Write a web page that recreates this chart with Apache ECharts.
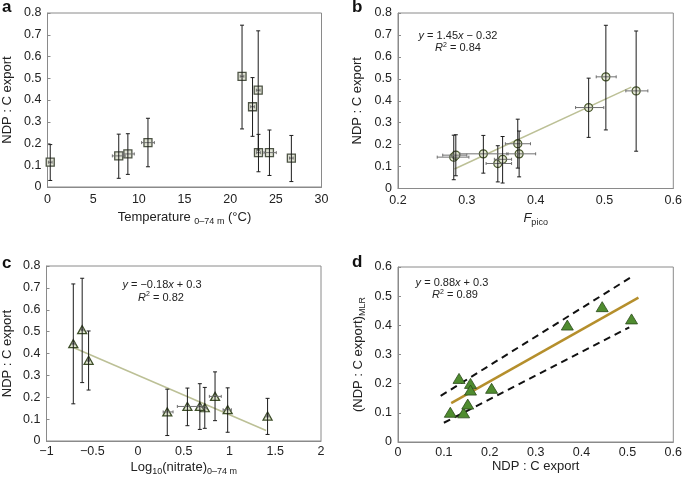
<!DOCTYPE html>
<html>
<head>
<meta charset="utf-8">
<script src="https://cdn.jsdelivr.net/npm/echarts@6/dist/echarts.min.js"></script>
<style>
html,body{margin:0;padding:0;background:#fff;}
#chart{width:685px;height:480px;}
</style>
</head>
<body>
<div id="chart"></div>
<script>
// ---- data (index = sampling station, shared by panels) ----
const ndp      = [0.114, 0.143, 0.152, 0.204, 0.509, 0.369, 0.445, 0.158, 0.158, 0.133];
const ndpLo    = [0.030, 0.040, 0.058, 0.093, 0.267, 0.233, 0.170, 0.070, 0.053, 0.025];
const ndpHi    = [0.195, 0.243, 0.245, 0.316, 0.744, 0.503, 0.718, 0.242, 0.262, 0.237];

const tempX    = [0.3, 7.8, 8.8, 11.0, 21.3, 22.45, 23.07, 23.1, 24.3, 26.7];
const tempLo   = [0.1, 7.1, 8.2, 10.3, 21.1, 22.25, 22.87, 22.9, 23.7, 26.5];
const tempHi   = [0.5, 8.5, 9.5, 11.7, 21.5, 22.65, 23.27, 23.3, 25.05, 26.9];

const fpico    = [0.345, 0.281, 0.284, 0.374, 0.502, 0.477, 0.546, 0.324, 0.376, 0.352];
const fpicoLo  = [0.328, 0.257, 0.265, 0.356, 0.488, 0.458, 0.531, 0.290, 0.358, 0.340];
const fpicoHi  = [0.365, 0.303, 0.300, 0.3925, 0.517, 0.499, 0.563, 0.360, 0.400, 0.365];

const logNitrate   = [1.416, 0.98, 0.73, 0.842, -0.61, -0.54, -0.707, 0.54, 0.676, 0.32];
const logNitrateLo = [1.400, 0.93, 0.71, 0.780, -0.62, -0.55, -0.720, 0.43, 0.655, 0.275];
const logNitrateHi = [1.430, 1.02, 0.75, 0.910, -0.60, -0.53, -0.690, 0.65, 0.695, 0.383];

const ndpMlr   = [0.102, 0.100, 0.130, 0.184, 0.422, 0.401, 0.464, 0.201, 0.178, 0.218];

// fitted / band lines (end points)
const fitB       = [[0.282, 0.089], [0.539, 0.462]];
const fitC       = [[-0.72, 0.430], [1.40, 0.048]];
const fitD       = [[0.116, 0.133], [0.524, 0.495]];
const bandDUpper = [[0.093, 0.158], [0.513, 0.570]];
const bandDLower = [[0.100, 0.066], [0.504, 0.393]];

// tick labels
const yTicksAB = ['0','0.1','0.2','0.3','0.4','0.5','0.6','0.7','0.8'];
const xTicksA  = ['0','5','10','15','20','25','30'];
const xTicksB  = ['0.2','0.3','0.4','0.5','0.6'];
const xTicksC  = ['−1','−0.5','0','0.5','1','1.5','2'];
const ticksD   = ['0','0.1','0.2','0.3','0.4','0.5','0.6'];

// ---- helpers ----
const FONT = 'Liberation Sans, Arial, sans-serif';
const zip = (xs, ys) => xs.map((x, i) => [x, ys[i]]);
function errData(xs, ys, ylo, yhi, xlo, xhi) {
  return xs.map((x, i) => [x, ys[i], ylo[i], yhi[i], xlo[i], xhi[i]]);
}
function renderErr(params, api) {
  const x = api.value(0), y = api.value(1);
  const yl = api.value(2), yh = api.value(3), xl = api.value(4), xh = api.value(5);
  const a1 = api.coord([x, yl]), a2 = api.coord([x, yh]);
  const b1 = api.coord([xl, y]), b2 = api.coord([xh, y]);
  const c = 2;
  const vs = {stroke: '#1c1c1c', lineWidth: 1};
  const hs = {stroke: '#707070', lineWidth: 1};
  return {
    type: 'group',
    children: [
      {type: 'line', shape: {x1: b1[0], y1: b1[1], x2: b2[0], y2: b2[1]}, style: hs},
      {type: 'line', shape: {x1: b1[0], y1: b1[1] - 1.5, x2: b1[0], y2: b1[1] + 1.5}, style: hs},
      {type: 'line', shape: {x1: b2[0], y1: b2[1] - 1.5, x2: b2[0], y2: b2[1] + 1.5}, style: hs},
      {type: 'line', shape: {x1: a1[0], y1: a1[1], x2: a2[0], y2: a2[1]}, style: vs},
      {type: 'line', shape: {x1: a1[0] - c, y1: a1[1], x2: a1[0] + c, y2: a1[1]}, style: vs},
      {type: 'line', shape: {x1: a2[0] - c, y1: a2[1], x2: a2[0] + c, y2: a2[1]}, style: vs}
    ]
  };
}
const nameRich = {
  n: {fontSize: 13, fontFamily: FONT, color: '#222', lineHeight: 18, verticalAlign: 'middle'},
  i: {fontSize: 13, fontFamily: FONT, color: '#222', fontStyle: 'italic', lineHeight: 18, verticalAlign: 'middle'},
  s: {fontSize: 9, fontFamily: FONT, color: '#222', lineHeight: 10, verticalAlign: 'bottom'}
};
function xAxisDef(grid, min, max, interval, labels, name, gap, margin) {
  return {
    type: 'value', gridIndex: grid, min: min, max: max, interval: interval,
    axisLine: {show: true, onZero: false, lineStyle: {color: '#8a8a8a', width: 1}},
    axisTick: {show: false},
    splitLine: {show: false},
    axisLabel: {
      fontSize: 12.5, fontFamily: FONT, color: '#222', margin: margin,
      formatter: (v) => labels[Math.round((v - min) / interval)]
    },
    name: name, nameLocation: 'middle', nameGap: gap,
    nameTextStyle: {fontSize: 13, fontFamily: FONT, color: '#222', rich: nameRich}
  };
}
function yAxisDef(grid, min, max, interval, labels, name, gap) {
  return {
    type: 'value', gridIndex: grid, min: min, max: max, interval: interval,
    axisLine: {show: true, onZero: false, lineStyle: {color: '#8a8a8a', width: 1}},
    axisTick: {show: true, inside: true, length: 3, lineStyle: {color: '#8a8a8a'}},
    splitLine: {show: false},
    axisLabel: {
      fontSize: 12.5, fontFamily: FONT, color: '#222', margin: 6,
      formatter: (v) => labels[Math.round((v - min) / interval)]
    },
    name: name, nameLocation: 'middle', nameGap: gap,
    nameTextStyle: {fontSize: 13, fontFamily: FONT, color: '#222', rich: nameRich}
  };
}
function eqText(x, y, parts) {
  return {
    type: 'text', x: x, y: y,
    style: {
      text: parts, x: 0, y: 0, align: 'center', verticalAlign: 'middle',
      fontSize: 11, fontFamily: FONT, fill: '#222',
      rich: {
        n: {fontSize: 11, fontFamily: FONT, color: '#222', lineHeight: 13},
        i: {fontSize: 11, fontFamily: FONT, color: '#222', fontStyle: 'italic', lineHeight: 13},
        p: {fontSize: 7, fontFamily: FONT, color: '#222', lineHeight: 13, verticalAlign: 'top', padding: [0, 0, 6, 0]}
      }
    }
  };
}
function letter(x, y, t) {
  return {type: 'text', x: x, y: y, style: {text: t, x: 0, y: 0, align: 'left', verticalAlign: 'middle',
    fontSize: 17, fontWeight: 'bold', fontFamily: FONT, fill: '#111'}};
}

const chart = echarts.init(document.getElementById('chart'), null, {renderer: 'canvas'});
const gridStyle = {show: true, borderColor: '#8a8a8a', borderWidth: 1, backgroundColor: 'transparent', containLabel: false};
chart.setOption({
  animation: false,
  grid: [
    Object.assign({left: 44.5, top: 13, width: 277, height: 174}, gridStyle),
    Object.assign({left: 398, top: 13, width: 277, height: 175.5}, gridStyle),
    Object.assign({left: 44, top: 266, width: 277, height: 175}, gridStyle),
    Object.assign({left: 398, top: 267, width: 278, height: 175}, gridStyle)
  ],
  xAxis: [
    xAxisDef(0, 0, 30, 5, xTicksA, '{n|Temperature }{s|0–74 m}{n| (°C)}', 21, 6),
    xAxisDef(1, 0.2, 0.6, 0.1, xTicksB, '{i|F}{s|pico}', 21, 6),
    xAxisDef(2, -1, 2, 0.5, xTicksC, '{n|Log}{s|10}{n|(nitrate)}{s|0–74 m}', 17, 4),
    xAxisDef(3, 0, 0.6, 0.1, ticksD, '{n|NDP : C export}', 13, 4)
  ],
  yAxis: [
    yAxisDef(0, 0, 0.8, 0.1, yTicksAB, '{n|NDP : C export}', 31),
    yAxisDef(1, 0, 0.8, 0.1, yTicksAB, '{n|NDP : C export}', 32),
    yAxisDef(2, 0, 0.8, 0.1, yTicksAB, '{n|NDP : C export}', 30),
    yAxisDef(3, 0, 0.6, 0.1, ticksD, '{n|(NDP : C export)}{s|MLR}', 31)
  ],
  graphic: [
    letter(2, 7.5, 'a'), letter(352, 7, 'b'), letter(2, 263, 'c'), letter(352, 262, 'd'),
    eqText(458, 36, '{i|y}{n| = 1.45}{i|x}{n| − 0.32}'),
    eqText(458, 48, '{i|R}{p|2}{n| = 0.84}'),
    eqText(162, 284.5, '{i|y}{n| = −0.18}{i|x}{n| + 0.3}'),
    eqText(161, 297.5, '{i|R}{p|2}{n| = 0.82}'),
    eqText(452, 282.5, '{i|y}{n| = 0.88}{i|x}{n| + 0.3}'),
    eqText(455, 295, '{i|R}{p|2}{n| = 0.89}')
  ],
  series: [
    // panel a
    {type: 'scatter', xAxisIndex: 0, yAxisIndex: 0, z: 2, symbol: 'rect', symbolSize: 8,
      itemStyle: {color: '#dfe2d4', borderColor: '#4e5446', borderWidth: 1.3, opacity: 1},
      data: zip(tempX, ndp)},
    {type: 'custom', xAxisIndex: 0, yAxisIndex: 0, z: 3, renderItem: renderErr,
      encode: {x: [0, 4, 5], y: [1, 2, 3]}, data: errData(tempX, ndp, ndpLo, ndpHi, tempLo, tempHi)},
    // panel b
    {type: 'line', xAxisIndex: 1, yAxisIndex: 1, z: 1, symbol: 'none', data: fitB,
      lineStyle: {color: '#bcc096', width: 1.5}},
    {type: 'scatter', xAxisIndex: 1, yAxisIndex: 1, z: 2, symbol: 'circle', symbolSize: 8,
      itemStyle: {color: '#e2e6d2', borderColor: '#4b5a2f', borderWidth: 1.3, opacity: 1},
      data: zip(fpico, ndp)},
    {type: 'custom', xAxisIndex: 1, yAxisIndex: 1, z: 3, renderItem: renderErr,
      encode: {x: [0, 4, 5], y: [1, 2, 3]}, data: errData(fpico, ndp, ndpLo, ndpHi, fpicoLo, fpicoHi)},
    // panel c
    {type: 'line', xAxisIndex: 2, yAxisIndex: 2, z: 1, symbol: 'none', data: fitC,
      lineStyle: {color: '#bcc096', width: 1.5}},
    {type: 'scatter', xAxisIndex: 2, yAxisIndex: 2, z: 2, symbol: 'triangle', symbolSize: [9, 8],
      itemStyle: {color: '#dfe5cf', borderColor: '#3f4f2a', borderWidth: 1.3, opacity: 1},
      data: zip(logNitrate, ndp)},
    {type: 'custom', xAxisIndex: 2, yAxisIndex: 2, z: 3, renderItem: renderErr,
      encode: {x: [0, 4, 5], y: [1, 2, 3]}, data: errData(logNitrate, ndp, ndpLo, ndpHi, logNitrateLo, logNitrateHi)},
    // panel d
    {type: 'line', xAxisIndex: 3, yAxisIndex: 3, z: 1, symbol: 'none', data: bandDUpper,
      lineStyle: {color: '#111', width: 2, type: [7, 5]}},
    {type: 'line', xAxisIndex: 3, yAxisIndex: 3, z: 1, symbol: 'none', data: bandDLower,
      lineStyle: {color: '#111', width: 2, type: [7, 5]}},
    {type: 'line', xAxisIndex: 3, yAxisIndex: 3, z: 1, symbol: 'none', data: fitD,
      lineStyle: {color: '#b58f2c', width: 2.5}},
    {type: 'scatter', xAxisIndex: 3, yAxisIndex: 3, z: 2, symbol: 'triangle', symbolSize: [12, 10],
      itemStyle: {color: '#4f8c2f', borderColor: '#2b4a1a', borderWidth: 0.8, opacity: 1},
      data: zip(ndp, ndpMlr)}
  ]
});
</script>
</body>
</html>
